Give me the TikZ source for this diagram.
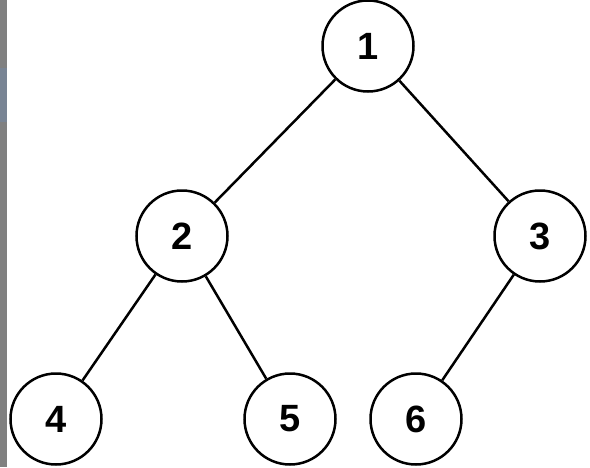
\documentclass[tikz,border=0pt]{standalone}
\usepackage{fontspec}
\setmainfont{Liberation Sans}
\begin{document}
\begin{tikzpicture}[x=1pt,y=-1pt,
  treenode/.style={circle,draw=black,line width=2.5pt,minimum size=91pt,inner sep=0pt,fill=white,font=\bfseries\fontsize{38}{44}\selectfont},
  edge/.style={draw=black,line width=2.5pt}]
\useasboundingbox (0,0) rectangle (590,467);
\fill[white] (0,0) rectangle (590,467);
\fill[black!50] (0,0) rectangle (7,467);
\fill[fill={rgb,255:red,120;green,132;blue,148}] (0,68) rectangle (7,122);
\node[treenode] (n1) at (368,46) {1};
\node[treenode] (n2) at (182,236) {2};
\node[treenode] (n3) at (540,236) {3};
\node[treenode] (n4) at (56,419) {4};
\node[treenode] (n5) at (290,419) {5};
\node[treenode] (n6) at (416,419) {6};
\draw[edge] (n1) -- (n2);
\draw[edge] (n1) -- (n3);
\draw[edge] (n2) -- (n4);
\draw[edge] (n2) -- (n5);
\draw[edge] (n3) -- (n6);
\end{tikzpicture}
\end{document}
